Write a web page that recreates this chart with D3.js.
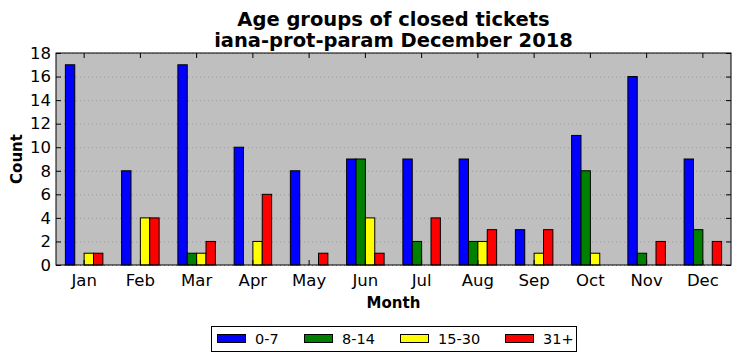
<!DOCTYPE html>
<html>
<head>
<meta charset="utf-8">
<script src="https://cdn.jsdelivr.net/npm/d3@7"></script>
<style>
  body { margin: 0; background: #fff; }
  text { font-family: "DejaVu Sans", sans-serif; }
</style>
</head>
<body>
<div id="chart"></div>
<script>
// data
var months = ["Jan", "Feb", "Mar", "Apr", "May", "Jun", "Jul", "Aug", "Sep", "Oct", "Nov", "Dec"];
var groups = ["0-7", "8-14", "15-30", "31+"];
var colors = ["#0000ff", "#008000", "#ffff00", "#ff0000"];
var age0to7   = [17, 8, 17, 10, 8, 9, 9, 9, 3, 11, 16, 9];
var age8to14  = [0, 0, 1, 0, 0, 9, 2, 2, 0, 8, 1, 3];
var age15to30 = [1, 4, 1, 2, 0, 4, 0, 2, 1, 1, 0, 0];
var age31plus = [1, 4, 2, 6, 1, 1, 4, 3, 3, 0, 2, 2];
var yTicks = [0, 2, 4, 6, 8, 10, 12, 14, 16, 18];

var series = [age0to7, age8to14, age15to30, age31plus];

var width = 741, height = 361;
var margin = {top: 53, right: 10, bottom: 96, left: 56};
var plotW = width - margin.left - margin.right;
var plotH = height - margin.top - margin.bottom;

var svg = d3.select("#chart").append("svg")
    .attr("width", width)
    .attr("height", height);

var x = d3.scaleBand().domain(months).range([0, plotW]);
var sub = d3.scaleBand().domain(groups).range([x.bandwidth() / 6, x.bandwidth() * 5 / 6]);
var y = d3.scaleLinear().domain([0, 18]).range([plotH, 0]);

var g = svg.append("g").attr("transform", "translate(" + margin.left + "," + margin.top + ")");

// plot background
g.append("rect")
    .attr("width", plotW).attr("height", plotH)
    .attr("fill", "#bfbfbf");

// grid
g.selectAll(".grid").data(yTicks).enter().append("line")
    .attr("x1", 0).attr("x2", plotW)
    .attr("y1", function(d) { return y(d) + 0.5; })
    .attr("y2", function(d) { return y(d) + 0.5; })
    .attr("stroke", "#999")
    .attr("stroke-width", 1)
    .attr("stroke-dasharray", "1,3");

// bars
series.forEach(function(vals, si) {
    g.selectAll(".bar" + si).data(vals).enter().append("rect")
        .attr("x", function(d, i) { return x(months[i]) + sub(groups[si]); })
        .attr("y", function(d) { return y(d); })
        .attr("width", sub.bandwidth())
        .attr("height", function(d) { return plotH - y(d); })
        .attr("fill", colors[si])
        .attr("stroke", "#000")
        .attr("stroke-width", 1);
});

// axes (ticks point inward, mirrored on top/right)
var xAxis = g.append("g").attr("transform", "translate(0," + plotH + ")")
    .call(d3.axisBottom(x).tickSize(-5).tickPadding(9));
var yAxis = g.append("g")
    .call(d3.axisLeft(y).tickValues(yTicks).tickSize(-5).tickPadding(5));
var xTop = g.append("g")
    .call(d3.axisTop(x).tickSize(-5).tickFormat(""));
var yRight = g.append("g").attr("transform", "translate(" + plotW + ",0)")
    .call(d3.axisRight(y).tickValues(yTicks).tickSize(-5).tickFormat(""));

[xAxis, yAxis, xTop, yRight].forEach(function(a) {
    a.select(".domain").remove();
    a.selectAll("line").attr("stroke", "#000");
    a.selectAll("text").attr("fill", "#000").style("font-size", "16.5px");
});

// frame
g.append("rect")
    .attr("width", plotW).attr("height", plotH)
    .attr("fill", "none").attr("stroke", "#000").attr("stroke-width", 1);

// titles
svg.append("text").attr("x", margin.left + plotW / 2).attr("y", 26)
    .attr("text-anchor", "middle").style("font-size", "19.5px").style("font-weight", "bold")
    .text("Age groups of closed tickets");
svg.append("text").attr("x", margin.left + plotW / 2).attr("y", 47)
    .attr("text-anchor", "middle").style("font-size", "19.5px").style("font-weight", "bold")
    .text("iana-prot-param December 2018");

svg.append("text").attr("x", margin.left + plotW / 2).attr("y", 308)
    .attr("text-anchor", "middle").style("font-size", "15px").style("font-weight", "bold")
    .text("Month");
svg.append("text")
    .attr("transform", "translate(22," + (margin.top + plotH / 2) + ") rotate(-90)")
    .attr("text-anchor", "middle").style("font-size", "15px").style("font-weight", "bold")
    .text("Count");

// legend
var legend = svg.append("g").attr("transform", "translate(211,326)");
legend.append("rect").attr("x", 0.5).attr("y", 0.5).attr("width", 365).attr("height", 25)
    .attr("fill", "#fff").attr("stroke", "#000");
var legendX = [6, 93, 189, 294];
groups.forEach(function(name, i) {
    var item = legend.append("g").attr("transform", "translate(" + legendX[i] + ",0)");
    item.append("rect").attr("x", 0.5).attr("y", 8.5).attr("width", 28).attr("height", 8)
        .attr("fill", colors[i]).attr("stroke", "#000");
    item.append("text").attr("x", 38).attr("y", 18).style("font-size", "14.5px").text(name);
});
</script>
</body>
</html>
